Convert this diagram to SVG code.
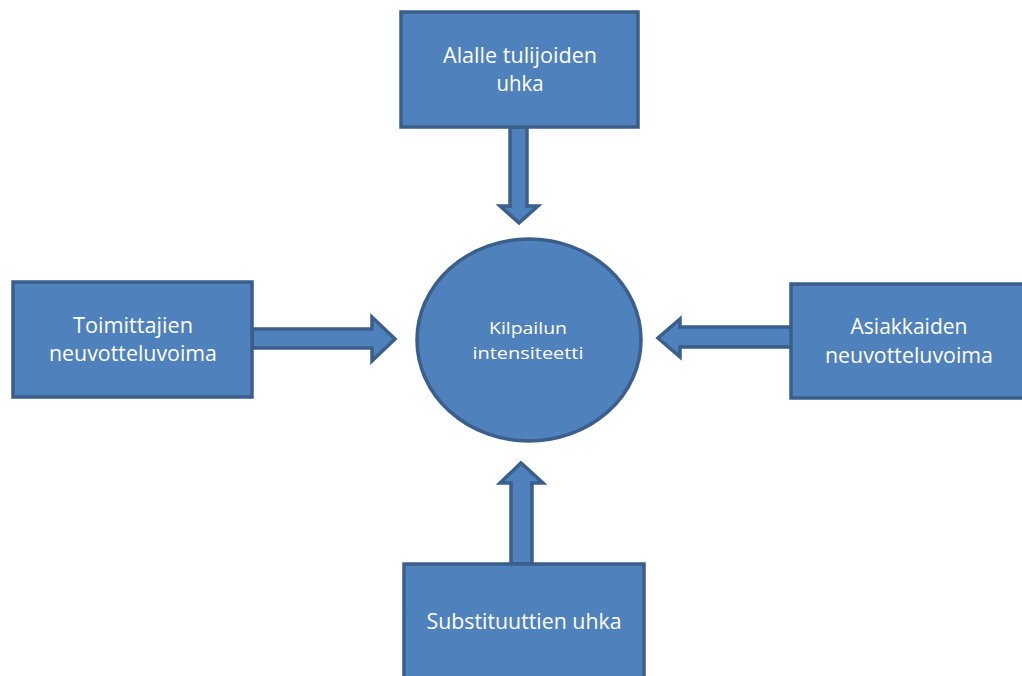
<svg xmlns="http://www.w3.org/2000/svg" width="1022" height="676" viewBox="0 0 1022 676">
  <style>
    .box { fill: #4F81BD; stroke: #3A5F8B; stroke-width: 3.5; }
    .arrow { fill: #4F81BD; stroke: #3A5F8B; stroke-width: 3.5; stroke-linejoin: miter; }
    .lbl { fill: #FFFFFF; font-family: "Open Sans", "Liberation Sans", sans-serif; font-size: 21px; text-anchor: middle; }
    .lbl-c { fill: #FFFFFF; font-family: "Open Sans", "Liberation Sans", sans-serif; font-size: 16.5px; text-anchor: middle; }
  </style>
  <rect width="1022" height="676" fill="#FFFFFF"/>

  <!-- block arrows pointing toward the centre -->
  <g id="connectors">
    <!-- from top box, pointing down -->
    <path class="arrow" d="M510,127 L527,127 L527,206 L538,206 L519,223 L500,206 L510,206 Z"/>
    <!-- from left box, pointing right -->
    <path class="arrow" d="M252,329 L372,329 L372,317 L395,339 L372,361 L372,348 L252,348 Z"/>
    <!-- from right box, pointing left -->
    <path class="arrow" d="M792,327 L680,327 L680,319 L658,338 L680,357 L680,347 L792,347 Z"/>
    <!-- from bottom box, pointing up -->
    <path class="arrow" d="M511,564 L511,483 L500,483 L521,463 L543,483 L532,483 L532,564 Z"/>
  </g>

  <g id="node-top">
    <rect class="box" x="401" y="12" width="237" height="115"/>
    <text class="lbl" x="520" y="63" textLength="154" lengthAdjust="spacingAndGlyphs">Alalle tulijoiden</text>
    <text class="lbl" x="520" y="91" textLength="47" lengthAdjust="spacingAndGlyphs">uhka</text>
  </g>

  <g id="node-left">
    <rect class="box" x="13" y="282" width="239" height="115"/>
    <text class="lbl" x="133" y="333" textLength="120" lengthAdjust="spacingAndGlyphs">Toimittajien</text>
    <text class="lbl" x="133" y="361" textLength="168" lengthAdjust="spacingAndGlyphs">neuvotteluvoima</text>
  </g>

  <g id="node-right">
    <rect class="box" x="791" y="284" width="240" height="114"/>
    <text class="lbl" x="909" y="334" textLength="117" lengthAdjust="spacingAndGlyphs">Asiakkaiden</text>
    <text class="lbl" x="909" y="363" textLength="168" lengthAdjust="spacingAndGlyphs">neuvotteluvoima</text>
  </g>

  <g id="node-bottom">
    <rect class="box" x="404" y="564" width="240" height="130"/>
    <text class="lbl" x="524" y="629" textLength="195" lengthAdjust="spacingAndGlyphs">Substituuttien uhka</text>
  </g>

  <g id="node-center">
    <ellipse class="box" cx="529" cy="340" rx="112" ry="101"/>
    <text class="lbl-c" x="528" y="334" textLength="78" lengthAdjust="spacingAndGlyphs">Kilpailun</text>
    <text class="lbl-c" x="528" y="359" textLength="111" lengthAdjust="spacingAndGlyphs">intensiteetti</text>
  </g>
</svg>
